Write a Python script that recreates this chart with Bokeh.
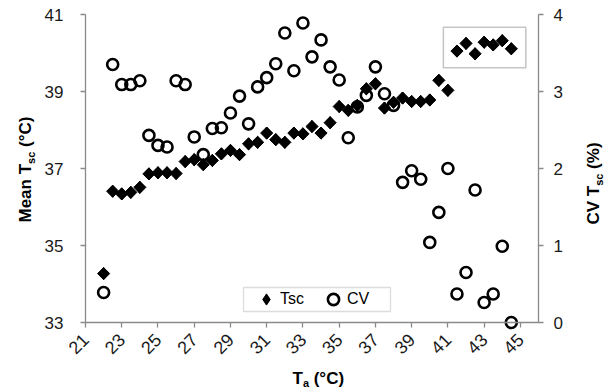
import math
from bokeh.plotting import figure
from bokeh.models import Range1d, LinearAxis, FixedTicker, Label, BoxAnnotation, Legend, LegendItem
from bokeh.embed import file_html
from bokeh.resources import INLINE

# ---- data ----
ta = [22.0, 22.5, 23.0, 23.5, 24.0, 24.5, 25.0, 25.5, 26.0, 26.5,
      27.0, 27.5, 28.0, 28.5, 29.0, 29.5, 30.0, 30.5, 31.0, 31.5,
      32.0, 32.5, 33.0, 33.5, 34.0, 34.5, 35.0, 35.5, 36.0, 36.5,
      37.0, 37.5, 38.0, 38.5, 39.0, 39.5, 40.0, 40.5, 41.0, 41.5,
      42.0, 42.5, 43.0, 43.5, 44.0, 44.5]
tsc = [34.27, 36.41, 36.34, 36.38, 36.51, 36.86, 36.89, 36.89, 36.87, 37.18,
       37.23, 37.10, 37.21, 37.38, 37.47, 37.36, 37.64, 37.68, 37.92, 37.75,
       37.68, 37.92, 37.90, 38.09, 37.92, 38.19, 38.61, 38.51, 38.64, 39.07,
       39.20, 38.57, 38.72, 38.83, 38.74, 38.74, 38.78, 39.29, 39.03, 40.05,
       40.25, 39.98, 40.28, 40.21, 40.32, 40.11]
cv = [0.39, 3.35, 3.09, 3.09, 3.14, 2.43, 2.30, 2.28, 3.14, 3.09,
      2.41, 2.18, 2.52, 2.53, 2.72, 2.94, 2.58, 3.06, 3.18, 3.36,
      3.76, 3.27, 3.89, 3.45, 3.67, 3.32, 3.15, 2.40, 2.80, 2.95,
      3.32, 2.97, 2.82, 1.82, 1.97, 1.86, 1.04, 1.43, 2.00, 0.37,
      0.65, 1.72, 0.26, 0.37, 0.99, 0.00]
x_ticks = [21, 23, 25, 27, 29, 31, 33, 35, 37, 39, 41, 43, 45]
tsc_ticks = [33, 35, 37, 39, 41]
cv_ticks = [0, 1, 2, 3, 4]
X_MIN, X_MAX = 21, 46
T_MIN, T_MAX = 33, 41
CV_MIN, CV_MAX = 0, 4
hot_start = 41.5  # first point of the boxed group

FONT = "Liberation Sans"
AX = "#8a8a8a"

# ---- geometry: page pixels of canvas and plotting area ----
W, H = 612, 390
CX, CY = 0, 0                      # canvas origin on the page
PL, PR, PT, PB = 85, 538, 14, 322  # plot-area edges on the page


def span(lo, hi, p_lo, p_hi, c_lo, c_hi):
    k = (hi - lo) / (p_hi - p_lo)
    return lo - (p_lo - c_lo) * k, hi + (c_hi - p_hi) * k


xr = span(X_MIN, X_MAX, PL, PR, CX, CX + W)
yr = span(T_MIN, T_MAX, -PB, -PT, -(CY + H), -CY)
cr = span(CV_MIN, CV_MAX, -PB, -PT, -(CY + H), -CY)

p = figure(width=W, height=H, output_backend="svg", toolbar_location=None,
           x_range=Range1d(*xr), y_range=Range1d(*yr),
           min_border_left=0, min_border_right=0, min_border_top=0, min_border_bottom=0)
p.extra_y_ranges = {"cv": Range1d(*cr)}
p.xgrid.visible = False
p.ygrid.visible = False
p.outline_line_color = None
p.background_fill_color = "white"
p.border_fill_color = "white"

p.add_layout(LinearAxis(y_range_name="cv"), "right")


def style(ax, ticks, standoff, loc, bounds, size="17px"):
    ax.fixed_location = loc
    ax.bounds = bounds
    ax.ticker = FixedTicker(ticks=ticks)
    ax.axis_line_color = AX
    ax.axis_line_width = 1.3
    ax.major_tick_line_color = AX
    ax.major_tick_line_width = 1.3
    ax.major_tick_out = 5
    ax.major_tick_in = 0
    ax.minor_tick_line_color = None
    ax.major_label_text_font = FONT
    ax.major_label_text_font_size = size
    ax.major_label_text_color = "#1a1a1a"
    ax.major_label_standoff = standoff


style(p.xaxis[0], x_ticks, 9, T_MIN, (X_MIN, X_MAX), "18px")
p.xaxis[0].major_label_orientation = math.pi / 4
style(p.yaxis[0], tsc_ticks, 17, X_MIN, (T_MIN, T_MAX))
style(p.yaxis[1], cv_ticks, 10, X_MAX, (CV_MIN, CV_MAX))

c = p.scatter(ta, cv, y_range_name="cv", marker="circle", size=11, line_width=2.6,
              line_color="black", fill_color=None)
# diamond outline (used by the legend), covered by the rotated squares drawn on top
d_leg = p.scatter(ta, tsc, marker="diamond", size=12, line_color="black", fill_color="black")
d = p.scatter(ta, tsc, marker="square", angle=math.pi / 4, size=8.6,
              line_color="black", fill_color="black")

# box round the hot group
hot_x = [x for x in ta if x >= hot_start]
hot_y = [y for x, y in zip(ta, tsc) if x >= hot_start]
p.add_layout(BoxAnnotation(left=min(hot_x) - 0.75, right=max(hot_x) + 0.8,
                           top=max(hot_y) + 0.35, bottom=min(hot_y) - 0.36,
                           fill_alpha=0, line_color="#3a3a3a", line_width=1.5))


def px_x(px):
    return xr[0] + (px - CX) * (xr[1] - xr[0]) / W


def px_y(py):
    return yr[1] - (py - CY) * (yr[1] - yr[0]) / H


# legend frame (page x 243..390, y 287..311)
p.add_layout(BoxAnnotation(left=px_x(243), right=px_x(390), top=px_y(287), bottom=px_y(311),
                           fill_color="white", fill_alpha=1, line_color=AX, line_width=1.3))
leg = Legend(items=[LegendItem(label="Tsc", renderers=[d_leg]), LegendItem(label="CV", renderers=[c])],
             orientation="horizontal", location=(252 - CX, (CY + H) - 313),
             padding=0, spacing=13, margin=0,
             glyph_width=28, glyph_height=28, label_standoff=0, label_width=26, label_height=28,
             label_text_font=FONT, label_text_font_size="16px", label_text_color="black",
             border_line_alpha=0, background_fill_alpha=0)
p.add_layout(leg, "center")


# ---- axis titles (with subscripts), positioned in page pixels ----
def lab(text, px, py, size, angle=0.0):
    p.add_layout(Label(x=px_x(px), y=px_y(py), text=text, angle=angle,
                       text_font=FONT, text_font_size=f"{size}px", text_font_style="bold",
                       text_color="black", text_align="left", text_baseline="middle"))


B, S = 17, 11
GAP = 4.7
# left title: Mean T_sc (°C)
y0 = 222
lab("Mean T", 25, y0, B, math.pi / 2)
lab("sc", 30, y0 - 58.6, S, math.pi / 2)
lab("(°C)", 25, y0 - 58.6 - 12.2 - GAP, B, math.pi / 2)
# right title: CV T_sc (%)
y1 = 224
lab("CV T", 593, y1, B, math.pi / 2)
lab("sc", 598, y1 - 38.7, S, math.pi / 2)
lab("(%)", 593, y1 - 38.7 - 12.2 - GAP, B, math.pi / 2)
# bottom title: T_a (°C)
x0 = 292
lab("T", x0, 377.5, B)
lab("a", x0 + 10.4, 382.5, S)
lab("(°C)", x0 + 10.4 + 6.1 + GAP, 377.5, B)

open("out.html", "w").write(file_html(p, INLINE))
